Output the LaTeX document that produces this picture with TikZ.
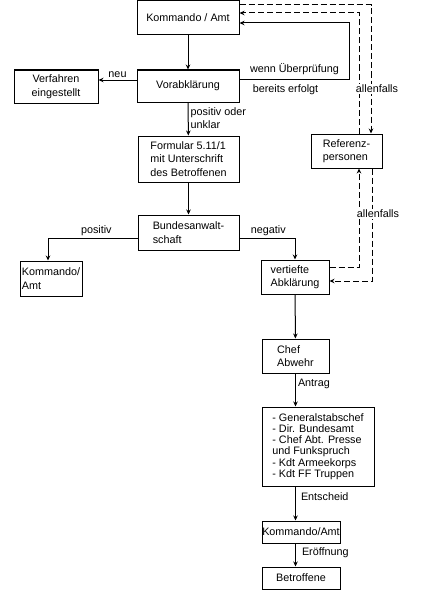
\documentclass[tikz,border=0pt]{standalone}
\usepackage{fontspec}
\setmainfont{Liberation Sans}
\usetikzlibrary{arrows.meta,positioning,calc}

\begin{document}
\begin{tikzpicture}[x=1pt,y=-1pt,line width=1pt,>={Stealth[length=5pt,width=4.5pt]},
  box/.style={draw,align=left,inner sep=0pt,font=\fontsize{10.8}{13.5}\selectfont},
  lbl/.style={font=\fontsize{10.8}{13.5}\selectfont,inner sep=2pt},
  maybe/.style={dash pattern=on 6pt off 3pt}]
   \useasboundingbox (0,0) rectangle (431,594);

   \node[box,minimum width=102pt,minimum height=34pt,align=center] (kdo) at (188,18) {Kommando / Amt};
   \node[box,minimum width=102pt,minimum height=32pt,align=center] (vor) at (188,86) {Vorabkl\"arung};
   \node[box,minimum width=84pt,minimum height=33pt,align=center] (verf) at (56,86.5) {Verfahren\\eingestellt};
   \node[box,minimum width=101pt,minimum height=46pt] (form) at (188.5,159) {Formular 5.11/1\\mit Unterschrift\\des Betroffenen};
   \node[box,minimum width=71pt,minimum height=34pt] (refp) at (346.5,151) {Referenz-\\personen};
   \node[box,minimum width=101pt,minimum height=35pt] (ba) at (188.5,232.5) {Bundesanwalt-\\schaft};
   \node[box,minimum width=62pt,minimum height=35pt] (kdoL) at (51,278.5) {Kommando/\\Amt};
   \node[box,minimum width=68pt,minimum height=34pt] (vert) at (295,277) {vertiefte\\Abkl\"arung};
   \node[box,minimum width=67pt,minimum height=34pt] (chef) at (295.5,356) {Chef\\Abwehr};
   \node[box,minimum width=112pt,minimum height=79pt,font=\fontsize{10.8}{11.3}\selectfont] (liste) at (318,446.5)
      {- Generalstabschef\\- Dir. Bundesamt\\- Chef Abt. Presse\\und Funkspruch\\- Kdt Armeekorps\\- Kdt FF Truppen};
   \node[box,minimum width=78pt,minimum height=22pt] (kdoU) at (301,532) {Kommando/Amt};
   \node[box,minimum width=78pt,minimum height=22pt] (betr) at (301,578) {Betroffene};

   \path[->]
    (kdo) edge (vor)
    (vor) edge node[lbl,right,align=left,pos=0.47] {positiv oder\\unklar} (form)
    (form) edge (ba)
    (vert) edge (chef);
   \draw[->] ([yshift=6pt]vor.west) -- node[lbl,above] {neu} ([yshift=6pt]vor.west -| verf.east);
   \draw[->] ([yshift=7pt]vor.east) -- node[lbl,above,yshift=2pt] {wenn \"Uberpr\"ufung}
      node[lbl,below,xshift=-9pt,yshift=-3pt] {bereits erfolgt} ++(110,0) |- ([yshift=-5pt]kdo.east);
   \draw[->] ([yshift=-5.5pt]ba.west) -| node[lbl,above,pos=0.23] {positiv} ([xshift=-3pt]kdoL.north);
   \draw[->] ([yshift=-5.5pt]ba.east) -| node[lbl,above,pos=0.26] {negativ} (vert.north);
   \draw[->] (chef.south) -- node[lbl,right,pos=0.32] {Antrag} (chef.south |- liste.north);
   \draw[->] (liste.south -| chef.south) -- node[lbl,right,pos=0.29,xshift=3pt] {Entscheid} (chef.south |- kdoU.north);
   \draw[->] (kdoU.south -| chef.south) -- node[lbl,right,pos=0.42,xshift=4pt] {Er\"offnung} (chef.south |- betr.north);

   \draw[maybe,->] ([yshift=13pt]kdo.east) -| ([xshift=24.5pt]refp.north);
   \draw[maybe,->] ([xshift=12.5pt]refp.north) |- ([yshift=5pt]kdo.east);
   \draw[maybe,->] ([yshift=10pt]vert.east) -| ([xshift=12.5pt]refp.south);
   \draw[maybe,->] ([xshift=25.5pt]refp.south) |- ([yshift=-4pt]vert.east);
   \node[lbl,fill=white,inner sep=1pt] (af1) at (377,89) {allenfalls};
   \node[lbl,fill=white,inner sep=1pt] (af2) at (378,214) {allenfalls};
\end{tikzpicture}
\end{document}
